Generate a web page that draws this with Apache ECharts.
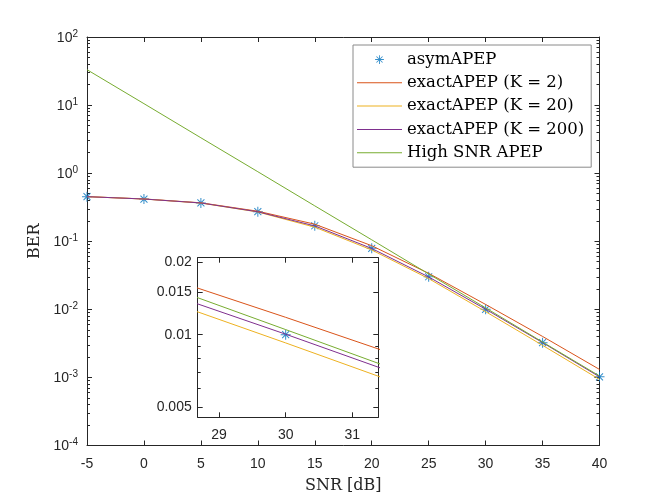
<!DOCTYPE html>
<html>
<head>
<meta charset="utf-8">
<script src="https://cdn.jsdelivr.net/npm/echarts@6/dist/echarts.min.js"></script>
<style>
  html, body { margin: 0; padding: 0; background: #fff; }
  #main { width: 664px; height: 501px; }
</style>
</head>
<body>
<div id="main"></div>
<script>
// values (BER vs SNR in dB)
var snr = [-5, 0, 5, 10, 15, 20, 25, 30, 35, 40];
var asymAPEP = [0.452, 0.417, 0.365, 0.272, 0.169, 0.0787, 0.0301, 0.0100, 0.00324, 0.00102];
var exactK2 = [0.452, 0.418, 0.367, 0.276, 0.178, 0.0860, 0.0338, 0.0118, 0.00400, 0.00131];
var exactK20 = [0.452, 0.417, 0.364, 0.269, 0.161, 0.0745, 0.0283, 0.00925, 0.00296, 0.000935];
var exactK200 = [0.452, 0.417, 0.365, 0.271, 0.168, 0.0783, 0.0299, 0.01005, 0.00325, 0.00102];
var highSNR = [33.1, 10.5, 3.31, 1.05, 0.331, 0.105, 0.0331, 0.0105, 0.00331, 0.00105];

var names = ['asymAPEP', 'exactAPEP (K = 2)', 'exactAPEP (K = 20)', 'exactAPEP (K = 200)', 'High SNR APEP'];
var colors = ['#0072BD', '#D95319', '#EDB120', '#7E2F8E', '#77AC30'];

// inset window
var insetX = [28.68, 31.39];
var insetY = [0.00456, 0.0208];
var insetXTicks = [29, 30, 31];
var insetYTicks = [0.005, 0.01, 0.015, 0.02];
var insetYMinor = [0.006, 0.007, 0.008, 0.009];

var star = 'path://M9 0H11V20H9Z M0 9H20V11H0Z M3.7 2.3L17.7 16.3L16.3 17.7L2.3 3.7Z M16.3 2.3L17.7 3.7L3.7 17.7L2.3 16.3Z';
var starPad = 'path://M-6 -6Z M26 26Z M9 0H11V20H9Z M0 9H20V11H0Z M3.7 2.3L17.7 16.3L16.3 17.7L2.3 3.7Z M16.3 2.3L17.7 3.7L3.7 17.7L2.3 16.3Z';
var dash = 'path://M0 0H45V1H0Z';

var axisCol = '#262626';
var sans = 'Liberation Sans';
var serif = 'DejaVu Serif';

// minor ticks 2..9 per decade for the main log axis
var mainMinor = [];
for (var d = -4; d < 2; d++) {
  for (var k = 2; k <= 9; k++) mainMinor.push(+(k * Math.pow(10, d)).toPrecision(3));
}

function pairs(ys) {
  return snr.map(function (x, i) { return [x, ys[i]]; });
}

var lineSets = [exactK2, exactK20, exactK200, highSNR];

function buildSeries(xi, yi, zBase, size) {
  var out = [{
    name: names[0], type: 'scatter', xAxisIndex: xi, yAxisIndex: yi,
    data: pairs(asymAPEP), symbol: star, symbolSize: size,
    itemStyle: { color: colors[0] }, z: zBase, clip: xi !== 0
  }];
  lineSets.forEach(function (ys, i) {
    out.push({
      name: names[i + 1], type: 'line', xAxisIndex: xi, yAxisIndex: yi,
      data: pairs(ys), symbol: 'none', smooth: false,
      lineStyle: { color: colors[i + 1], width: 1 },
      itemStyle: { color: colors[i + 1] }, z: zBase + 1
    });
  });
  return out;
}

var lineSt = { color: axisCol, width: 1 };
var noLine = { show: false, onZero: false };
var boxLine = { onZero: false, lineStyle: lineSt };

var chart = echarts.init(document.getElementById('main'));
chart.setOption({
  backgroundColor: '#fff',
  animation: false,
  textStyle: { fontFamily: sans },
  grid: [
    { left: 87, right: 64.5, top: 37, bottom: 55.5 },
    { left: 197.7, right: 285.7, top: 257.7, bottom: 83.7, show: true, backgroundColor: '#fff', borderWidth: 0, z: 10 }
  ],
  legend: {
    orient: 'vertical', left: 353, top: 45,
    backgroundColor: '#fff', borderColor: '#8a8a8a', borderWidth: 1,
    padding: [6, 7, 6, 4], itemWidth: 45, itemHeight: 14, itemGap: 6.3,
    textStyle: { fontFamily: serif, fontSize: 16.5, color: '#000' },
    data: [
      { name: names[0], icon: starPad },
      { name: names[1], icon: dash },
      { name: names[2], icon: dash },
      { name: names[3], icon: dash },
      { name: names[4], icon: dash }
    ]
  },
  xAxis: [
    {
      gridIndex: 0, type: 'value', min: -5, max: 40, interval: 5, position: 'bottom',
      axisLine: boxLine, axisTick: { inside: true, length: 5, lineStyle: lineSt },
      axisLabel: { margin: 12, fontSize: 14, color: axisCol, fontFamily: sans },
      splitLine: { show: false },
      name: 'SNR [dB]', nameLocation: 'middle', nameGap: 32,
      nameTextStyle: { fontFamily: serif, fontSize: 16, color: axisCol }
    },
    {
      gridIndex: 0, type: 'value', min: -5, max: 40, interval: 5, position: 'top',
      axisLine: boxLine, axisTick: { inside: true, length: 5, lineStyle: lineSt },
      axisLabel: { show: false }, splitLine: { show: false }
    },
    {
      gridIndex: 1, type: 'value', min: insetX[0], max: insetX[1], position: 'bottom', z: 11,
      axisLine: boxLine,
      axisTick: { inside: true, length: 5, lineStyle: lineSt, customValues: insetXTicks },
      axisLabel: { margin: 11, fontSize: 14, color: axisCol, customValues: insetXTicks },
      splitLine: { show: false }
    },
    {
      gridIndex: 1, type: 'value', min: insetX[0], max: insetX[1], position: 'top', z: 11,
      axisLine: boxLine,
      axisTick: { inside: true, length: 5, lineStyle: lineSt, customValues: insetXTicks },
      axisLabel: { show: false }, splitLine: { show: false }
    }
  ],
  yAxis: [
    {
      gridIndex: 0, type: 'log', logBase: 10, min: 1e-4, max: 100, interval: 1, position: 'left',
      axisLine: boxLine, axisTick: { inside: true, length: 5, lineStyle: lineSt },
      axisLabel: {
        margin: 9, color: axisCol,
        formatter: function (v) { return '{b|10}{s|' + Math.round(Math.log10(v)) + '}'; },
        rich: {
          b: { fontSize: 14, fontFamily: sans, color: axisCol, verticalAlign: 'bottom' },
          s: { fontSize: 10, fontFamily: sans, color: axisCol, verticalAlign: 'top', padding: [0, 0, 6, 0] }
        }
      },
      splitLine: { show: false },
      name: 'BER', nameLocation: 'middle', nameGap: 44,
      nameTextStyle: { fontFamily: serif, fontSize: 16, color: axisCol }
    },
    {
      gridIndex: 0, type: 'log', logBase: 10, min: 1e-4, max: 100, position: 'left',
      axisLine: noLine, axisLabel: { show: false }, splitLine: { show: false },
      axisTick: { inside: true, length: 3, lineStyle: lineSt, customValues: mainMinor }
    },
    {
      gridIndex: 0, type: 'log', logBase: 10, min: 1e-4, max: 100, interval: 1, position: 'right',
      axisLine: boxLine, axisTick: { inside: true, length: 5, lineStyle: lineSt },
      axisLabel: { show: false }, splitLine: { show: false }
    },
    {
      gridIndex: 0, type: 'log', logBase: 10, min: 1e-4, max: 100, position: 'right',
      axisLine: noLine, axisLabel: { show: false }, splitLine: { show: false },
      axisTick: { inside: true, length: 3, lineStyle: lineSt, customValues: mainMinor }
    },
    {
      gridIndex: 1, type: 'log', logBase: 10, min: insetY[0], max: insetY[1], position: 'left', z: 11,
      axisLine: boxLine,
      axisTick: { inside: true, length: 5, lineStyle: lineSt, customValues: insetYTicks },
      axisLabel: {
        margin: 6, fontSize: 14, color: axisCol, customValues: insetYTicks,
        formatter: function (v) { return String(+(+v).toPrecision(3)); }
      },
      splitLine: { show: false }
    },
    {
      gridIndex: 1, type: 'log', logBase: 10, min: insetY[0], max: insetY[1], position: 'left', z: 11,
      axisLine: noLine, axisLabel: { show: false }, splitLine: { show: false },
      axisTick: { inside: true, length: 3, lineStyle: lineSt, customValues: insetYMinor }
    },
    {
      gridIndex: 1, type: 'log', logBase: 10, min: insetY[0], max: insetY[1], position: 'right', z: 11,
      axisLine: boxLine,
      axisTick: { inside: true, length: 5, lineStyle: lineSt, customValues: insetYTicks },
      axisLabel: { show: false }, splitLine: { show: false }
    },
    {
      gridIndex: 1, type: 'log', logBase: 10, min: insetY[0], max: insetY[1], position: 'right', z: 11,
      axisLine: noLine, axisLabel: { show: false }, splitLine: { show: false },
      axisTick: { inside: true, length: 3, lineStyle: lineSt, customValues: insetYMinor }
    }
  ],
  series: buildSeries(0, 0, 2, 10).concat(buildSeries(2, 4, 12, 10))
});
</script>
</body>
</html>
